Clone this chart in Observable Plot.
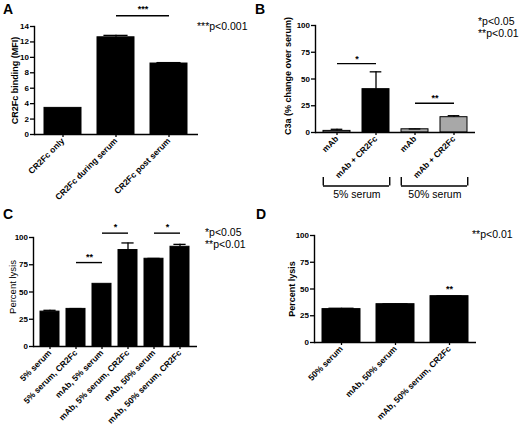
<!DOCTYPE html>
<html><head><meta charset="utf-8">
<script src="https://cdn.jsdelivr.net/npm/d3@7"></script>
<script src="https://cdn.jsdelivr.net/npm/@observablehq/plot@0.6"></script>
<style>
body{margin:0;background:#fff;}
#fig{position:relative;width:520px;height:433px;font-family:"Liberation Sans",Arial,Helvetica,sans-serif;color:#000;overflow:hidden;}
#fig svg{position:absolute;overflow:visible;}
.t{position:absolute;white-space:nowrap;}
.letter{font-size:14px;font-weight:bold;line-height:14px;}
.pv{font-size:10.5px;line-height:11.5px;}
</style></head><body><div id="fig"></div>
<script>
// ---- Panel A data ----
const aCats = ["CR2Fc only", "CR2Fc during serum", "CR2Fc post serum"];
const aVals = [3.45, 12.6, 9.2];
const aErrs = [0, 0.25, 0.12];
const aTicks = [0, 2, 4, 6, 8, 10, 12, 14];
// ---- Panel B data ----
const bCats = ["5%: mAb", "5%: mAb + CR2Fc", "50%: mAb", "50%: mAb + CR2Fc"];
const bLabels = ["mAb", "mAb + CR2Fc", "mAb", "mAb + CR2Fc"];
const bVals = [1.5, 40.5, 3, 14.3];
const bErrs = [1.5, 16.2, 0.3, 1.4];
const bFills = ["#a8a8a8", "#000000", "#a8a8a8", "#a8a8a8"];
const bGroups = ["5% serum", "50% serum"];
const pctTicks = [0, 25, 50, 75, 100];
// ---- Panel C data ----
const cCats = ["5% serum", "5% serum, CR2Fc", "mAb, 5% serum", "mAb, 5% serum, CR2Fc", "mAb, 50% serum", "mAb, 50% serum, CR2Fc"];
const cVals = [32, 34.5, 57.5, 88.5, 80.5, 91.5];
const cErrs = [1.2, 0.3, 0, 6.5, 0.3, 2.2];
// ---- Panel D data ----
const dCats = ["50% serum", "mAb, 50% serum", "mAb, 50% serum, CR2Fc"];
const dVals = [31.2, 35.8, 43.3];
const dErrs = [0.8, 0.3, 0.2];

const FONT = '"Liberation Sans", Arial, Helvetica, sans-serif';
const fig = document.getElementById("fig");

function panel(o) {
  const labels = o.labels || o.cats;
  const fills = o.fills || o.cats.map(() => "#000000");
  const rows = o.cats.map((c, i) => ({cat: c, val: o.vals[i], err: o.errs[i], fill: fills[i]}));
  const errRows = rows.filter(d => d.err > 0);
  const xs = d3.scaleBand(o.cats, [o.ml, o.width - o.mr]).paddingInner(o.pi).paddingOuter(o.po);
  const step = xs.step(), bw = xs.bandwidth();
  const labelOf = new Map(o.cats.map((c, i) => [c, labels[i]]));
  const sig = o.sig || [];
  const marks = [
    Plot.barY(rows, {x: "cat", y: "val", fill: d => d.fill, stroke: "#000", strokeWidth: 1}),
    Plot.ruleX(errRows, {x: "cat", y1: "val", y2: d => d.val + d.err, stroke: "#000", strokeWidth: 1.3}),
    Plot.tickY(errRows, {x: "cat", y: d => d.val + d.err, stroke: "#000", strokeWidth: 1.3, insetLeft: bw * o.cap, insetRight: bw * o.cap}),
    Plot.ruleY([0], {stroke: "#000", strokeWidth: 1.4}),
    Plot.frame({anchor: "left", stroke: "#000", strokeWidth: 1.4}),
    Plot.axisY({ticks: o.ticks, tickSize: 4, tickPadding: 1.5, strokeWidth: 1.3, fontWeight: "bold", fontSize: o.tickFont, label: null}),
    Plot.axisX({tickRotate: -45, tickSize: 3, tickPadding: 2, strokeWidth: 1.3, fontWeight: "bold", fontSize: o.xFont, label: null, tickFormat: d => labelOf.get(d)}),
    Plot.text([o.ylabel], {frameAnchor: "left", textAnchor: "middle", rotate: -90, dx: -o.ylabelDx, dy: o.ylabelDy || 0, fontWeight: o.ylabelWeight, fontSize: o.ylabelSize}),
    Plot.link(sig, {x1: "from", x2: "to", y1: "y", y2: "y", stroke: "#000", strokeWidth: 1.4}),
    Plot.text(sig, {x: "from", y: "y", text: "label", dx: step / 2, dy: o.starDy, lineAnchor: "bottom", fontWeight: "bold", fontSize: 9})
  ];
  if (o.extra) marks.push(...o.extra(rows, step, bw));
  const svg = Plot.plot({
    width: o.width, height: o.height,
    marginLeft: o.ml, marginRight: o.mr, marginTop: o.mt, marginBottom: o.mb,
    x: {domain: o.cats, paddingInner: o.pi, paddingOuter: o.po},
    y: {domain: [0, o.ymax]},
    style: {fontFamily: FONT, background: "transparent", color: "#000", overflow: "visible"},
    marks
  });
  svg.style.left = o.left + "px";
  svg.style.top = o.top + "px";
  fig.appendChild(svg);
}

// Panel A
panel({
  left: 0, top: 0, width: 260, height: 210, ml: 34, mr: 62, mt: 26, mb: 76, pi: 0.3, po: 0.17,
  cats: aCats, vals: aVals, errs: aErrs, ticks: aTicks, ymax: 14, cap: 0.17,
  tickFont: 8, xFont: 8.5, ylabel: "CR2Fc binding (MFI)", ylabelDx: 19, ylabelWeight: "bold", ylabelSize: 9,
  starDy: -4,
  sig: [{from: aCats[1], to: aCats[2], y: 15.4, label: "***"}]
});

// Panel B
panel({
  left: 260, top: 0, width: 260, height: 210, ml: 55, mr: 45, mt: 25, mb: 78, pi: 0.31, po: 0.165,
  cats: bCats, labels: bLabels, fills: bFills, vals: bVals, errs: bErrs, ticks: pctTicks, ymax: 100, cap: 0.28,
  tickFont: 8, xFont: 8.5, ylabel: "C3a (% change over serum)", ylabelDx: 27, ylabelDy: -3, ylabelWeight: "bold", ylabelSize: 9,
  starDy: -2,
  sig: [{from: bCats[0], to: bCats[1], y: 64.4, label: "*"}, {from: bCats[2], to: bCats[3], y: 27.3, label: "**"}],
  extra: (rows, step, bw) => {
    const groups = bGroups.map((g, i) => ({label: g, first: bCats[2 * i], last: bCats[2 * i + 1]}));
    return [
      Plot.ruleY(groups, {x1: "first", x2: "last", y: -50, stroke: "#000", strokeWidth: 1.4}),
      Plot.ruleX(groups, {x: "first", y1: -42, y2: -50, dx: -bw / 2, stroke: "#000", strokeWidth: 1.4}),
      Plot.ruleX(groups, {x: "last", y1: -42, y2: -50, dx: bw / 2, stroke: "#000", strokeWidth: 1.4}),
      Plot.text(groups, {x: "first", y: -58.5, text: "label", dx: step / 2, fontSize: 10.5})
    ];
  }
});

// Panel C
panel({
  left: 0, top: 210, width: 260, height: 223, ml: 33, mr: 63, mt: 27, mb: 87, pi: 0.26, po: 0.17,
  cats: cCats, vals: cVals, errs: cErrs, ticks: pctTicks, ymax: 100, cap: 0.17,
  tickFont: 8, xFont: 8.5, ylabel: "Percent lysis", ylabelDx: 21, ylabelDy: -5, ylabelWeight: "normal", ylabelSize: 9.5,
  starDy: -3,
  sig: [{from: cCats[1], to: cCats[2], y: 77, label: "**"}, {from: cCats[2], to: cCats[3], y: 104, label: "*"}, {from: cCats[4], to: cCats[5], y: 104, label: "*"}]
});

// Panel D
panel({
  left: 260, top: 210, width: 260, height: 223, ml: 54, mr: 44, mt: 25, mb: 91, pi: 0.3, po: 0.15,
  cats: dCats, vals: dVals, errs: dErrs, ticks: pctTicks, ymax: 100, cap: 0.17,
  tickFont: 8, xFont: 8.5, ylabel: "Percent lysis", ylabelDx: 22, ylabelWeight: "bold", ylabelSize: 9,
  starDy: -3,
  extra: (rows) => [Plot.text([rows[2]], {x: "cat", y: d => d.val + d.err, text: () => "**", dy: -4, lineAnchor: "bottom", fontWeight: "bold", fontSize: 9})]
});

// Panel letters and p-value notes
const notes = [
  {cls: "letter", left: 3, top: 2, html: "A"},
  {cls: "letter", left: 255, top: 2, html: "B"},
  {cls: "letter", left: 3, top: 207, html: "C"},
  {cls: "letter", left: 256, top: 207, html: "D"},
  {cls: "pv", left: 197, top: 21, html: "***p&lt;0.001"},
  {cls: "pv", left: 478, top: 16, html: "*p&lt;0.05<br>**p&lt;0.01"},
  {cls: "pv", left: 205, top: 227, html: "*p&lt;0.05<br>**p&lt;0.01"},
  {cls: "pv", left: 472, top: 229, html: "**p&lt;0.01"}
];
for (const n of notes) {
  const div = document.createElement("div");
  div.className = "t " + n.cls;
  div.style.left = n.left + "px";
  div.style.top = n.top + "px";
  div.innerHTML = n.html;
  fig.appendChild(div);
}
</script></body></html>
